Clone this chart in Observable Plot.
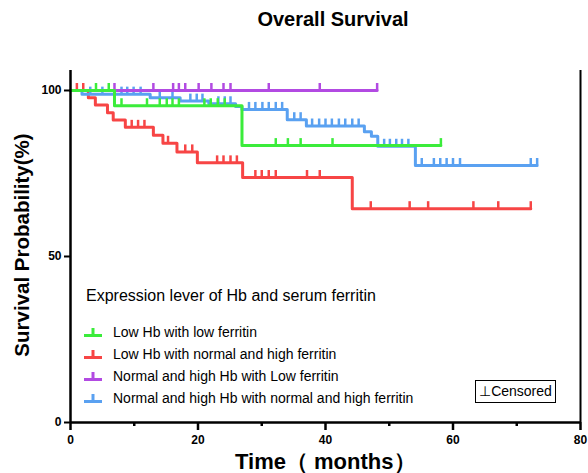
<!DOCTYPE html>
<html><head><meta charset="utf-8">
<script src="https://cdn.jsdelivr.net/npm/d3@7"></script>
<script src="https://cdn.jsdelivr.net/npm/@observablehq/plot@0.6"></script>
<style>
body{margin:0;background:#fff;font-family:"Liberation Sans",Arial,sans-serif;color:#000;}
#wrap{position:relative;width:588px;height:473px;overflow:hidden;}
#wrap svg{position:absolute;left:0;top:0;}
.abs{position:absolute;white-space:nowrap;}
#title{left:0;width:666px;top:8px;text-align:center;font-weight:bold;font-size:20px;}
#ylab{left:22px;top:245px;font-weight:bold;font-size:20.5px;transform:translate(-50%,-50%) rotate(-90deg);}
#xlab{left:235px;top:447px;font-weight:bold;font-size:22px;}
#legtitle{left:86px;top:287px;font-size:16px;}
.item{left:84px;font-size:14px;height:20px;display:flex;align-items:center;}
.item svg{position:static !important;margin-right:11px;}
#cens{left:475px;top:380px;width:79px;height:21px;border:1.5px solid #000;font-size:14px;text-align:center;line-height:21px;}
</style></head><body><div id="wrap"></div>
<script>
const seriesNames = ["Low Hb with low ferritin", "Low Hb with normal and high ferritin", "Normal and high Hb with Low ferritin", "Normal and high Hb with normal and high ferritin"];
const seriesColors = ["#3bec3b", "#f74545", "#b24ae2", "#5aa1f1"];

// Low Hb with low ferritin (green)
const greenDeathMonths = [6.9, 26.9];
const greenSurvival = [95.4, 83.4];
const greenLastMonth = 58.1;
const greenCensored = [4.0, 6.0, 8.0, 12.0, 14.0, 15.1, 16.0, 17.0, 21.0, 22.0, 23.1, 24.2, 32.2, 34.1, 36.1, 41.1, 58.1];

// Low Hb with normal and high ferritin (red)
const redDeathMonths = [2.8, 3.9, 5.8, 6.7, 8.6, 13.0, 14.5, 16.7, 19.9, 27.0, 44.2];
const redSurvival = [97.8, 95.6, 93.3, 91.1, 88.9, 86.5, 84.1, 81.5, 78.2, 73.8, 64.4];
const redLastMonth = 72.2;
const redCensored = [1.0, 2.0, 9.6, 10.6, 11.6, 15.3, 18.0, 19.1, 23.0, 24.0, 25.1, 26.1, 29.0, 30.0, 31.1, 32.2, 37.1, 39.1, 47.1, 53.2, 56.1, 63.2, 67.1, 72.2];

// Normal and high Hb with Low ferritin (purple)
const purpleDeathMonths = [];
const purpleSurvival = [];
const purpleLastMonth = 48.1;
const purpleCensored = [6.9, 13.0, 16.1, 17.0, 18.0, 20.1, 22.1, 24.0, 25.1, 31.1, 39.1, 48.1];

// Normal and high Hb with normal and high ferritin (blue)
const blueDeathMonths = [1.8, 12.5, 17.2, 21.7, 25.9, 26.9, 34.0, 37.0, 46.1, 47.2, 48.2, 54.1];
const blueSurvival = [98.9, 97.8, 96.8, 96.0, 95.2, 94.3, 91.2, 89.3, 87.6, 86.2, 83.2, 77.4];
const blueLastMonth = 73.2;
const blueCensored = [3.1, 5.0, 8.0, 8.9, 9.9, 11.0, 14.0, 16.0, 18.8, 19.8, 20.7, 23.2, 24.2, 25.1, 28.0, 29.0, 30.1, 31.1, 32.2, 33.2, 35.1, 36.1, 37.9, 39.0, 40.0, 41.0, 42.1, 43.1, 44.2, 45.2, 49.2, 50.1, 51.1, 52.0, 53.0, 55.1, 57.0, 58.0, 59.0, 60.0, 61.1, 72.2, 73.2];

const xMajorTicks = [0, 20, 40, 60, 80];
const xMinorTicks = [10, 30, 50, 70];
const yTicks = [0, 50, 100];

function stepPoints(g, deaths, surv, last) {
  const pts = [{g, t: 0, s: 100}];
  deaths.forEach((t, i) => pts.push({g, t, s: surv[i]}));
  pts.push({g, t: last, s: surv.length ? surv[surv.length - 1] : 100});
  return pts;
}
function censorPoints(g, deaths, surv, cens) {
  return cens.map(t => {
    let s = 100;
    deaths.forEach((d, i) => { if (d <= t) s = surv[i]; });
    return {g, t, s};
  });
}
const series = [
  [seriesNames[1], redDeathMonths, redSurvival, redLastMonth, redCensored],
  [seriesNames[3], blueDeathMonths, blueSurvival, blueLastMonth, blueCensored],
  [seriesNames[2], purpleDeathMonths, purpleSurvival, purpleLastMonth, purpleCensored],
  [seriesNames[0], greenDeathMonths, greenSurvival, greenLastMonth, greenCensored]
];

const marks = [];
for (const [g, d, s, last, c] of series) {
  marks.push(Plot.line(stepPoints(g, d, s, last), {x: "t", y: "s", stroke: "g", curve: "step-after", strokeWidth: 3}));
  marks.push(Plot.ruleX(censorPoints(g, d, s, c), {x: "t", y1: "s", y2: "s", stroke: "g", strokeWidth: 2.5, insetTop: 0, insetBottom: 7}));
}

const chart = Plot.plot({
  width: 588, height: 473,
  marginTop: 70, marginBottom: 51, marginLeft: 70, marginRight: 8,
  x: {domain: [0, 80]},
  y: {domain: [0, 106.02]},
  color: {domain: seriesNames, range: seriesColors},
  style: {fontFamily: "Liberation Sans, Arial, sans-serif", background: "transparent", color: "black", overflow: "visible"},
  marks: [
    ...marks,
    Plot.ruleX([0], {strokeWidth: 2.5, stroke: "black"}),
    Plot.ruleX([80], {strokeWidth: 2, stroke: "black"}),
    Plot.ruleY([0], {strokeWidth: 2.5, stroke: "black"}),
    Plot.axisY({ticks: yTicks, tickSize: 6, tickPadding: 3, strokeWidth: 2, fontSize: 12, fontWeight: "bold", label: null}),
    Plot.axisX({ticks: xMajorTicks, tickSize: 8, tickPadding: 5, strokeWidth: 2.5, fontSize: 12, fontWeight: "bold", label: null}),
    Plot.axisX({ticks: xMinorTicks, tickSize: 4, strokeWidth: 2.5, tickFormat: () => "", label: null})
  ]
});
const wrap = document.getElementById("wrap");
wrap.appendChild(chart);

function addDiv(id, cls, html, style) {
  const d = document.createElement("div");
  if (id) d.id = id;
  d.className = "abs " + (cls || "");
  d.innerHTML = html;
  if (style) Object.assign(d.style, style);
  wrap.appendChild(d);
  return d;
}
addDiv("title", "", "Overall Survival");
addDiv("ylab", "", "Survival Probability(%)");
addDiv("xlab", "", "Time（ months）");
addDiv("legtitle", "", "Expression lever of Hb and serum ferritin");
const legendTops = [322, 344, 366, 388];
seriesNames.forEach((n, i) => {
  const col = seriesColors[i];
  const sym = `<svg width="18" height="10"><line x1="0" x2="18" y1="8.5" y2="8.5" stroke="${col}" stroke-width="3"/><line x1="9" x2="9" y1="1" y2="8" stroke="${col}" stroke-width="3"/></svg>`;
  addDiv(null, "item", sym + "<span>" + n + "</span>", {top: legendTops[i] + "px"});
});
addDiv("cens", "", "⊥Censored");
</script>
</body></html>
